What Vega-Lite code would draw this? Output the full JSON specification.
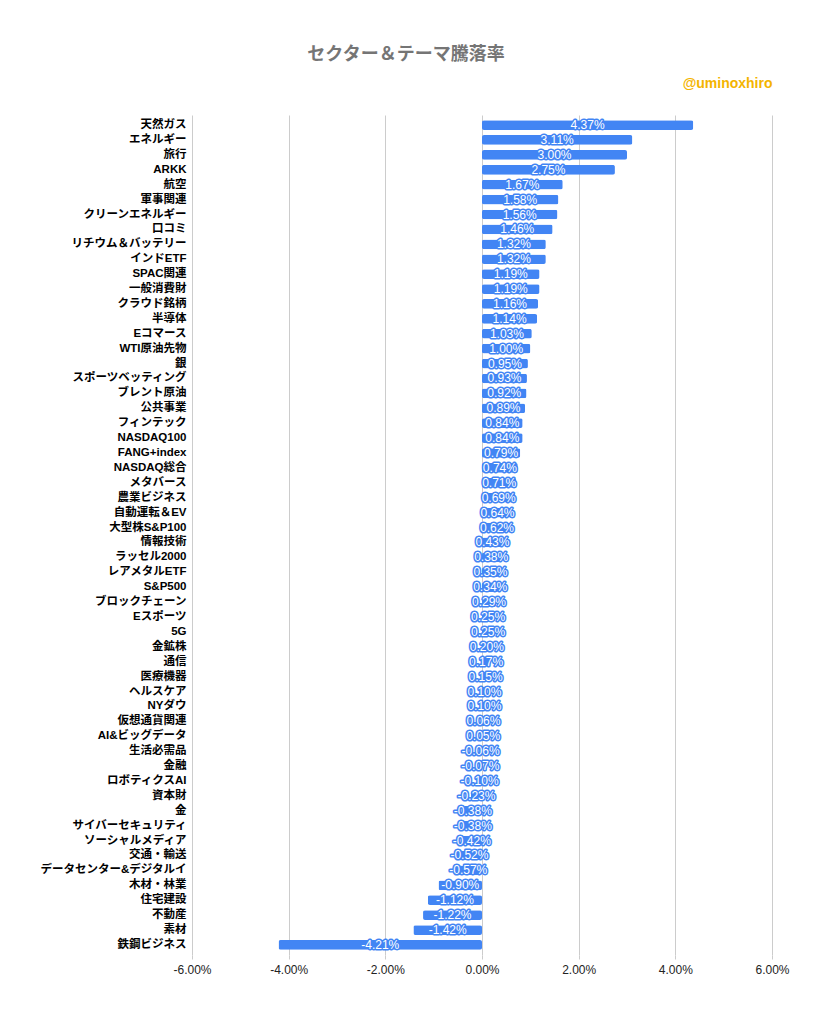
{
  "$schema": "https://vega.github.io/schema/vega-lite/v6.json",
  "autosize": "none",
  "width": 580,
  "height": 840,
  "padding": {"left": 192, "top": 115, "right": 41, "bottom": 61},
  "background": "#ffffff",
  "config": {
    "view": {"stroke": null},
    "locale": {"number": {"decimal": ".", "thousands": ",", "grouping": [3], "currency": ["$", ""], "minus": "-"}}
  },
  "title": {
    "text": "セクター＆テーマ騰落率",
    "anchor": "middle",
    "frame": "group",
    "dx": -76,
    "fontSize": 18,
    "fontWeight": "bold",
    "color": "#757575",
    "font": "Liberation Sans, Noto Sans CJK JP",
    "offset": 12
  },
  "data": {
    "values": [
      {"name": "天然ガス", "v": 0.0437},
      {"name": "エネルギー", "v": 0.0311},
      {"name": "旅行", "v": 0.0300},
      {"name": "ARKK", "v": 0.0275},
      {"name": "航空", "v": 0.0167},
      {"name": "軍事関連", "v": 0.0158},
      {"name": "クリーンエネルギー", "v": 0.0156},
      {"name": "口コミ", "v": 0.0146},
      {"name": "リチウム＆バッテリー", "v": 0.0132},
      {"name": "インドETF", "v": 0.0132},
      {"name": "SPAC関連", "v": 0.0119},
      {"name": "一般消費財", "v": 0.0119},
      {"name": "クラウド銘柄", "v": 0.0116},
      {"name": "半導体", "v": 0.0114},
      {"name": "Eコマース", "v": 0.0103},
      {"name": "WTI原油先物", "v": 0.0100},
      {"name": "銀", "v": 0.0095},
      {"name": "スポーツベッティング", "v": 0.0093},
      {"name": "ブレント原油", "v": 0.0092},
      {"name": "公共事業", "v": 0.0089},
      {"name": "フィンテック", "v": 0.0084},
      {"name": "NASDAQ100", "v": 0.0084},
      {"name": "FANG+index", "v": 0.0079},
      {"name": "NASDAQ総合", "v": 0.0074},
      {"name": "メタバース", "v": 0.0071},
      {"name": "農業ビジネス", "v": 0.0069},
      {"name": "自動運転＆EV", "v": 0.0064},
      {"name": "大型株S&P100", "v": 0.0062},
      {"name": "情報技術", "v": 0.0043},
      {"name": "ラッセル2000", "v": 0.0038},
      {"name": "レアメタルETF", "v": 0.0035},
      {"name": "S&P500", "v": 0.0034},
      {"name": "ブロックチェーン", "v": 0.0029},
      {"name": "Eスポーツ", "v": 0.0025},
      {"name": "5G", "v": 0.0025},
      {"name": "金鉱株", "v": 0.0020},
      {"name": "通信", "v": 0.0017},
      {"name": "医療機器", "v": 0.0015},
      {"name": "ヘルスケア", "v": 0.0010},
      {"name": "NYダウ", "v": 0.0010},
      {"name": "仮想通貨関連", "v": 0.0006},
      {"name": "AI&ビッグデータ", "v": 0.0005},
      {"name": "生活必需品", "v": -0.0006},
      {"name": "金融", "v": -0.0007},
      {"name": "ロボティクスAI", "v": -0.0010},
      {"name": "資本財", "v": -0.0023},
      {"name": "金", "v": -0.0038},
      {"name": "サイバーセキュリティ", "v": -0.0038},
      {"name": "ソーシャルメディア", "v": -0.0042},
      {"name": "交通・輸送", "v": -0.0052},
      {"name": "データセンター&デジタルイ", "v": -0.0057},
      {"name": "木材・林業", "v": -0.0090},
      {"name": "住宅建設", "v": -0.0112},
      {"name": "不動産", "v": -0.0122},
      {"name": "素材", "v": -0.0142},
      {"name": "鉄鋼ビジネス", "v": -0.0421}
    ]
  },
  "encoding": {
    "y": {
      "field": "name",
      "type": "nominal",
      "sort": null,
      "scale": {"paddingInner": 0.35, "paddingOuter": 0.35},
      "axis": {
        "title": null,
        "ticks": false,
        "domain": false,
        "labelPadding": 6,
        "labelFont": "Liberation Sans, Noto Sans CJK JP",
        "labelFontSize": 11.5,
        "labelFontWeight": "bold",
        "labelColor": "#000000",
        "labelLimit": 300
      }
    }
  },
  "layer": [
    {
      "mark": {"type": "bar", "color": "#4285F4", "cornerRadius": 2},
      "encoding": {
        "x": {
          "field": "v",
          "type": "quantitative",
          "scale": {"domain": [-0.06, 0.06], "nice": false, "zero": false},
          "axis": {
            "orient": "bottom",
            "title": null,
            "format": ".2%",
            "values": [-0.06, -0.04, -0.02, 0, 0.02, 0.04, 0.06],
            "domain": false,
            "grid": true,
            "gridColor": "#cccccc",
            "tickColor": "#cccccc",
            "tickSize": 4,
            "labelPadding": 5,
            "labelFlush": false,
            "labelFont": "Liberation Sans",
            "labelFontSize": 12,
            "labelColor": "#222222"
          }
        }
      }
    },
    {
      "transform": [{"calculate": "datum.v / 2", "as": "mid"}],
      "mark": {"type": "text", "font": "Liberation Sans", "fontSize": 12, "stroke": "#4285F4", "strokeWidth": 3, "strokeJoin": "round", "fill": "#4285F4", "baseline": "middle", "align": "center"},
      "encoding": {
        "x": {"field": "mid", "type": "quantitative", "axis": null},
        "text": {"field": "v", "type": "quantitative", "format": ".2%"}
      }
    },
    {
      "transform": [{"calculate": "datum.v / 2", "as": "mid"}],
      "mark": {"type": "text", "font": "Liberation Sans", "fontSize": 12, "fill": "#ffffff", "baseline": "middle", "align": "center"},
      "encoding": {
        "x": {"field": "mid", "type": "quantitative", "axis": null},
        "text": {"field": "v", "type": "quantitative", "format": ".2%"}
      }
    },
    {
      "mark": {"type": "rule", "color": "#000000", "strokeWidth": 1},
      "encoding": {
        "x": {
          "datum": 0,
          "type": "quantitative",
          "axis": {
            "orient": "top",
            "title": "@uminoxhiro",
            "titleAnchor": "end",
            "titleAlign": "right",
            "titleColor": "#F4B400",
            "titleFont": "Liberation Sans",
            "titleFontSize": 14,
            "titleFontWeight": "bold",
            "titlePadding": 25,
            "labels": false,
            "ticks": false,
            "domain": false,
            "grid": false
          }
        }
      }
    }
  ],
  "resolve": {"axis": {"x": "independent"}}
}
